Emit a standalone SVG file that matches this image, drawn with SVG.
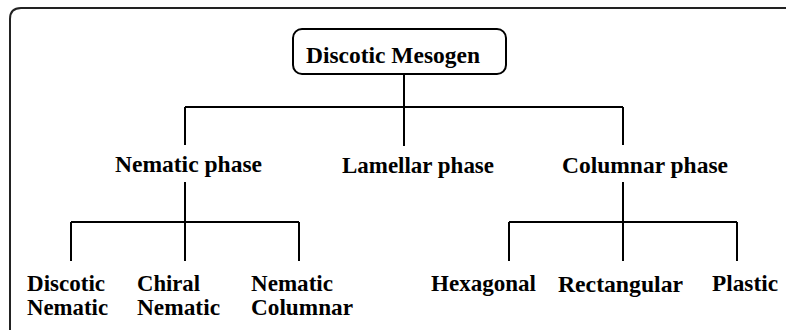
<svg xmlns="http://www.w3.org/2000/svg" width="786" height="330" viewBox="0 0 786 330">
<style>
text{font-family:"Liberation Serif","Times New Roman",serif;font-weight:bold;font-size:24px;fill:#000}
.ln{stroke:#000;stroke-width:2;fill:none}
</style>
<rect width="786" height="330" fill="#fff"/>
<path d="M10 330 V19 Q10 8 21 8 H786" fill="none" stroke="#222" stroke-width="2"/>
<g id="connectors" class="ln">
<path d="M404 74 V107 M185 107 H623 M185 107 V145 M404 107 V146 M623 107 V145"/>
<path d="M185 182 V222 M71 222 H299 M71 222 V261 M185 222 V261 M299 222 V261"/>
<path d="M623 182 V222 M509 222 H737 M509 222 V261 M623 222 V261 M737 222 V261"/>
</g>
<g id="discotic-mesogen">
<rect x="293" y="29" width="213" height="45" rx="9" fill="#fff" stroke="#000" stroke-width="2"/>
<text x="306" y="63" textLength="174" lengthAdjust="spacingAndGlyphs">Discotic Mesogen</text>
</g>
<g id="nematic-phase"><text x="115" y="172" textLength="147" lengthAdjust="spacingAndGlyphs">Nematic phase</text></g>
<g id="lamellar-phase"><text x="342" y="173" textLength="152" lengthAdjust="spacingAndGlyphs">Lamellar phase</text></g>
<g id="columnar-phase"><text x="562" y="173" textLength="166" lengthAdjust="spacingAndGlyphs">Columnar phase</text></g>
<g id="discotic-nematic">
<text x="27" y="291" textLength="78" lengthAdjust="spacingAndGlyphs">Discotic</text>
<text x="27" y="315" textLength="81" lengthAdjust="spacingAndGlyphs">Nematic</text>
</g>
<g id="chiral-nematic">
<text x="137" y="291" textLength="63" lengthAdjust="spacingAndGlyphs">Chiral</text>
<text x="137" y="315" textLength="83" lengthAdjust="spacingAndGlyphs">Nematic</text>
</g>
<g id="nematic-columnar">
<text x="251" y="291" textLength="82" lengthAdjust="spacingAndGlyphs">Nematic</text>
<text x="251" y="315" textLength="102" lengthAdjust="spacingAndGlyphs">Columnar</text>
</g>
<g id="hexagonal"><text x="431" y="291" textLength="105" lengthAdjust="spacingAndGlyphs">Hexagonal</text></g>
<g id="rectangular"><text x="558" y="292" textLength="125" lengthAdjust="spacingAndGlyphs">Rectangular</text></g>
<g id="plastic"><text x="712" y="291" textLength="66" lengthAdjust="spacingAndGlyphs">Plastic</text></g>
</svg>
